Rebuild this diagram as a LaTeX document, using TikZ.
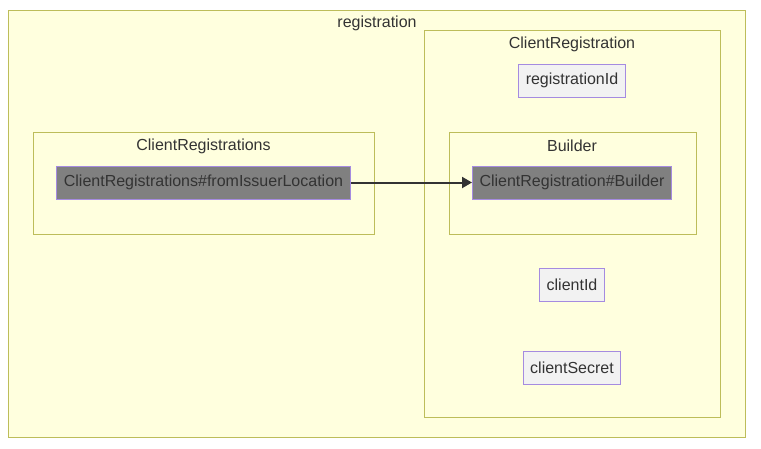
\documentclass[tikz,border=0pt]{standalone}
\usepackage{fontspec}
\setmainfont{Liberation Sans}
\usetikzlibrary{arrows.meta}
\definecolor{clfill}{HTML}{FFFFDE}
\definecolor{clline}{HTML}{BDBD5A}
\definecolor{ndline}{HTML}{A58BE0}
\definecolor{ndfill}{HTML}{F2F2F2}
\definecolor{txt}{HTML}{333333}
\tikzset{
  cluster/.style={draw=clline,fill=clfill,line width=1pt},
  title/.style={text=txt,font=\fontsize{16pt}{19pt}\selectfont,inner sep=0pt},
  field/.style={draw=ndline,fill=ndfill,line width=1pt,text=txt,
    font=\fontsize{16pt}{19pt}\selectfont,inner xsep=7pt,inner ysep=0pt,minimum height=33pt},
  method/.style={field,fill=gray},
  edge/.style={draw=txt,line width=2pt,-{Triangle[length=10pt,width=11pt]}}
}
\begin{document}
\begin{tikzpicture}[x=1pt,y=-1pt]
\useasboundingbox (0,0) rectangle (761,448);
\fill[white] (0,0) rectangle (761,448);
% clusters
\draw[cluster] (8,10) rectangle (745,437);
\node[title] (registration) at (377,23) {registration};
\draw[cluster] (424,30) rectangle (720,417);
\node[title] (clientregistration) at (572,44) {ClientRegistration};
\draw[cluster] (33,132) rectangle (374,234);
\node[title] (clientregistrations) at (203.5,146) {ClientRegistrations};
\draw[cluster] (449,132) rectangle (696,234);
\node[title] (builder) at (572,146) {Builder};
% nodes
\node[field] (regid) at (572,80.5) {registrationId};
\node[method] (fromissuer) at (203.5,182.5) {ClientRegistrations\#fromIssuerLocation};
\node[method] (crbuilder) at (572,182.5) {ClientRegistration\#Builder};
\node[field] (clientid) at (572,284.5) {clientId};
\node[field] (secret) at (572,367.5) {clientSecret};
% edge
\draw[edge] (fromissuer.east) -- (crbuilder.west);
\end{tikzpicture}
\end{document}
